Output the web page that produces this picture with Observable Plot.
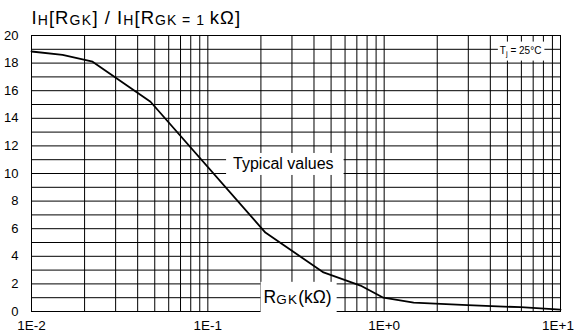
<!DOCTYPE html>
<html><head><meta charset="utf-8">
<script src="https://cdn.jsdelivr.net/npm/d3@7"></script>
<script src="https://cdn.jsdelivr.net/npm/@observablehq/plot@0.6"></script>
<style>
body{margin:0;background:#fff}
svg{font-family:"Liberation Sans",Arial,sans-serif}
</style>
</head><body><div id="chart"></div>
<script>
// Curve: RGK (kΩ) vs IH ratio
const rgk   = [0.01, 0.015, 0.0222, 0.0473, 0.212, 0.453, 0.734, 0.99, 1.47, 2.97, 5.94, 10];
const ratio = [18.84, 18.6, 18.1, 15.2, 5.72, 2.83, 1.88, 1.0, 0.65, 0.46, 0.31, 0.14];

const xTicks = [0.01, 0.1, 1, 10];
const xTickLabels = ["1E-2", "1E-1", "1E+0", "1E+1"];
const yTicks = [0, 2, 4, 6, 8, 10, 12, 14, 16, 18, 20];

// grid: log minors per decade, every unit on y
const xGrid = [0.01, 0.1, 1].flatMap(d => d3.range(1, 10).map(k => k * d)).concat([10]);
const yGrid = d3.range(0, 21);

// annotations (data coords)
const annoKeys = ["typ", "rgk", "tj"];
const annoText = ["Typical values", "RGK(kΩ)", "Tj = 25°C"];
const annoX = [0.268, 0.323, 5.94];
const annoY = [10.7, 1.0, 19.06];
const titleText = "IH[RGK] / IH[RGK = 1 kΩ]";

const data = rgk.map((r, i) => ({r, v: ratio[i]}));
const annos = annoKeys.map((k, i) => ({k, t: annoText[i], x: annoX[i], y: annoY[i]}));

const plot = Plot.plot({
  width: 574, height: 333,
  marginLeft: 31, marginRight: 14, marginTop: 35, marginBottom: 22,
  style: {fontFamily: '"Liberation Sans", Arial, sans-serif', color: "#000", background: "#fff", overflow: "visible"},
  x: {type: "log", domain: [0.01, 10]},
  y: {domain: [0, 20]},
  marks: [
    Plot.ruleX(xGrid, {stroke: "#000", strokeWidth: 1}),
    Plot.ruleY(yGrid, {stroke: "#000", strokeWidth: 1}),
    Plot.frame({stroke: "#000", strokeWidth: 1}),
    Plot.line(data, {x: "r", y: "v", stroke: "#000", strokeWidth: 1.8}),
    Plot.axisX(xTicks, {tickSize: 0, tickPadding: 9, fontSize: 13.5, label: null,
      tickFormat: d => xTickLabels[xTicks.indexOf(d)]}),
    Plot.axisY(yTicks, {tickSize: 0, tickPadding: 13, fontSize: 13, label: null}),
    Plot.text(annos, {x: "x", y: "y", text: "t", fill: "#000", fontSize: 16}),
    Plot.text([titleText], {frameAnchor: "top-left", textAnchor: "start", dy: -19, fill: "#000"})
  ]
});
document.getElementById("chart").append(plot);

// rich text with subscripts + white label boxes
const rich = {
  "Typical values": {segs: [["Typical values", 16, 0, 0]], pad: [7, 2, 10, 3]},
  "RGK(kΩ)": {segs: [["R", 17.5, 0, 0], ["GK", 13.5, 1, 1.2], ["(kΩ)", 17.5, -1, 0]], pad: [3, 5, 5, 6]},
  "Tj = 25°C": {segs: [["T", 10, 0, 0], ["j", 7.5, 2, 0], [" = 25°C", 10, -2, 0]], pad: [2, 3, 3, 3]},
  [titleText]: {segs: [["I", 18.5, 0, 1], ["H", 14, 1, 1.2], ["[R", 18.5, -1, 1], ["GK", 14, 1, 1.4],
                       ["] / I", 18.5, -1, 1], ["H", 14, 1, 1.2], ["[R", 18.5, -1, 1], ["GK = 1 ", 14, 1, 1],
                       ["kΩ]", 18.5, -1, 1]], pad: null}
};
const svg = d3.select(plot);
svg.selectAll("text").each(function() {
  const el = this;
  const key = el.textContent;
  if (key === "1E+1") { d3.select(el).attr("dx", -2.5); return; }
  const spec = rich[key];
  if (!spec) return;
  const t = d3.select(el);
  t.text(null).attr("font-size", null);
  spec.segs.forEach(([s, fs, dy, ls]) => {
    t.append("tspan").text(s).attr("font-size", fs).attr("dy", dy || null)
      .attr("letter-spacing", ls || null);
  });
  if (spec.pad) {
    const b = el.getBBox();
    const [l, tp, r, bt] = spec.pad;
    d3.select(el.parentNode).insert("rect", () => el)
      .attr("x", b.x - l).attr("y", b.y - tp)
      .attr("width", b.width + l + r).attr("height", b.height + tp + bt)
      .attr("fill", "#fff")
      .attr("transform", el.getAttribute("transform"));
  }
});
</script>
</body></html>
